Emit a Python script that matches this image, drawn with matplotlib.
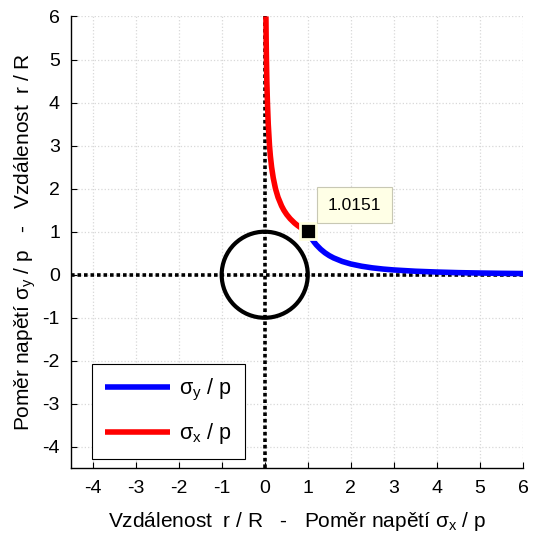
import matplotlib
matplotlib.use('Agg')
import matplotlib.pyplot as plt
from matplotlib.patches import Circle

plt.rcParams['font.family'] = ['Liberation Sans', 'DejaVu Sans']
plt.rcParams['mathtext.fontset'] = 'custom'
plt.rcParams['mathtext.rm'] = 'Liberation Sans'
plt.rcParams['mathtext.it'] = 'Liberation Sans'
plt.rcParams['axes.unicode_minus'] = False

# distance r / R from the hole edge
r_ratio = [1.0, 1.05, 1.1, 1.15, 1.2, 1.3, 1.4, 1.5, 1.6, 1.8, 2.0, 2.25,
           2.5, 2.75, 3.0, 3.5, 4.0, 4.5, 5.0, 5.5, 6.0]
# stress ratio along the axes
sigma_y = [1.0, 0.907, 0.826, 0.756, 0.694, 0.592, 0.510, 0.444, 0.391,
           0.309, 0.25, 0.198, 0.16, 0.132, 0.111, 0.082, 0.063, 0.049,
           0.04, 0.033, 0.028]
sigma_x = sigma_y

tip_x = 1.0
tip_y = 1.0151
tip_text = '1.0151'

fig = plt.figure(figsize=(5.4, 5.4), dpi=100)
ax = fig.add_axes([0.1315, 0.132, 0.837, 0.838])

ax.set_xlim(-4.5, 6)
ax.set_ylim(-4.5, 6)
ax.set_aspect('equal')

ax.grid(True, color='#d8d8d8', linestyle=':', linewidth=0.9)
ax.set_axisbelow(True)

# axes through the hole centre
ax.plot([-4.5, 6], [0, 0], color='black', linestyle=(0, (1, 0.8)), lw=2.6, zorder=2)
ax.plot([0, 0], [-4.5, 6], color='black', linestyle=(0, (1, 0.8)), lw=2.6, zorder=2)

hole = Circle((0, 0), 1.0, fill=False, edgecolor='black', lw=3, zorder=3)
ax.add_patch(hole)

ax.plot(r_ratio, sigma_y, color='#0000ff', lw=4, solid_capstyle='butt', zorder=4,
        label=r'$\sigma_{y}$ / p')
ax.plot(sigma_x, r_ratio, color='#ff0000', lw=4, solid_capstyle='butt', zorder=4,
        label=r'$\sigma_{x}$ / p')

ax.plot([tip_x], [tip_y], marker='s', markersize=11, color='black',
        markeredgecolor='#ffffe0', markeredgewidth=2, zorder=6)
ax.text(2.08, 1.62, tip_text, fontsize=12.5, ha='center', va='center', zorder=7,
        bbox=dict(boxstyle='square,pad=0.62', facecolor='#ffffe6',
                  edgecolor='#c8c8b4', lw=0.8))

for s in ['top', 'right']:
    ax.spines[s].set_visible(False)
for s in ['left', 'bottom']:
    ax.spines[s].set_linewidth(1.0)

ax.set_xticks(range(-4, 7))
ax.set_yticks(range(-4, 7))
ax.tick_params(direction='in', length=4, labelsize=14, pad=8)

ax.set_xlabel(r'Vzdálenost  r / R   -   Poměr napětí $\sigma_{x}$ / p',
              fontsize=15, labelpad=10)
ax.set_ylabel(r'Poměr napětí $\sigma_{y}$ / p   -   Vzdálenost  r / R',
              fontsize=15, labelpad=3)

leg = ax.legend(loc='lower left', bbox_to_anchor=(0.047, 0.02), borderaxespad=0,
                fontsize=15.5, handlelength=3.0, handletextpad=0.45,
                fancybox=False, edgecolor='black', framealpha=1,
                borderpad=0.6, labelspacing=0.85)
leg.get_frame().set_linewidth(0.8)

plt.savefig('out.png', dpi=100)
plt.close()
